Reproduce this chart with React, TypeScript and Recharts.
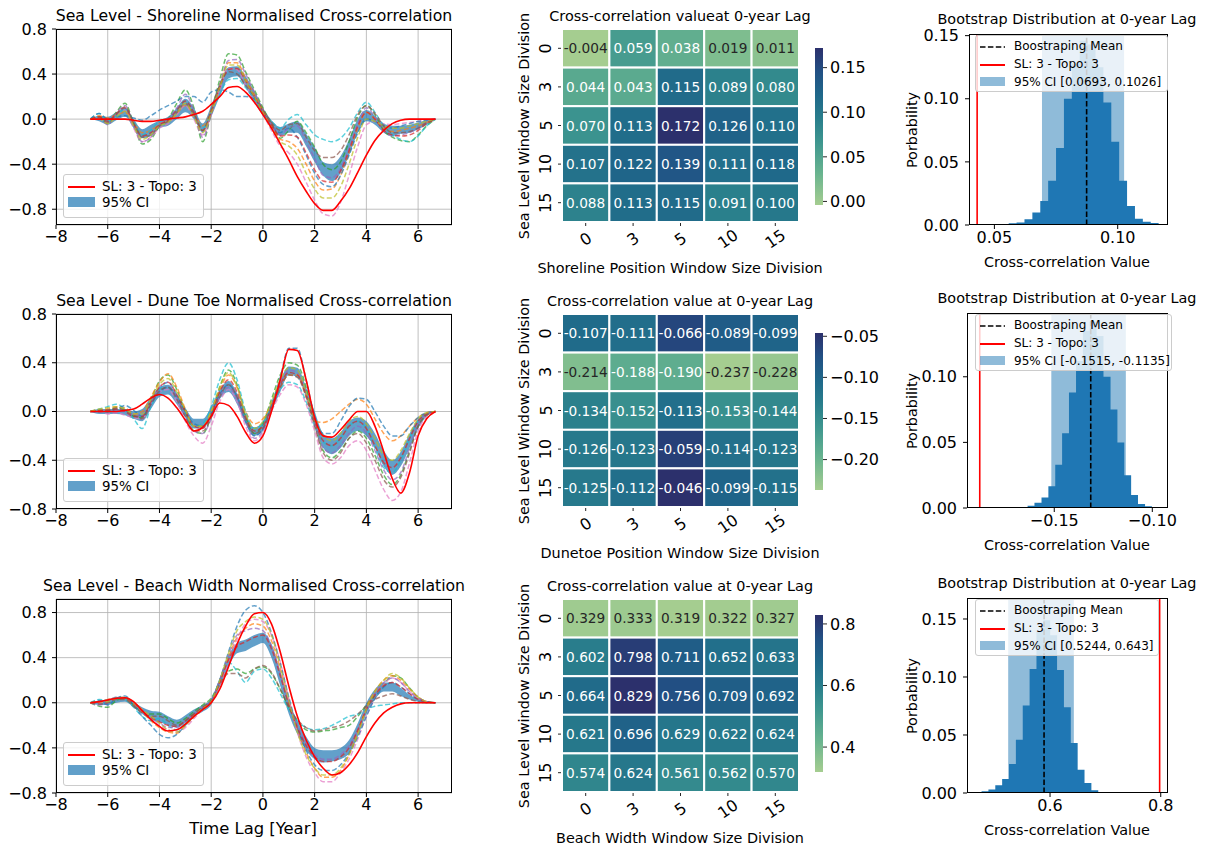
import React from 'react';
import {
  ComposedChart, Line, Area, XAxis, YAxis, CartesianGrid,
  ReferenceLine, ReferenceArea, ScatterChart, Scatter,
} from 'recharts';

const FONT = '"DejaVu Sans", sans-serif';

// time lag (years) shared by the three cross-correlation panels
const lags = [
  -6.67, -6.33, -6, -5.67, -5.33, -5, -4.67, -4.33, -4, -3.67,
  -3.33, -3, -2.67, -2.33, -2, -1.67, -1.33, -1, -0.67, -0.33,
  0, 0.33, 0.67, 1, 1.33, 1.67, 2, 2.33, 2.67, 3,
  3.33, 3.67, 4, 4.33, 4.67, 5, 5.33, 5.67, 6, 6.33,
  6.67,
];

// sea level vs shoreline
const shoreRef = [
  0, 0, 0, 0, 0, -0.01, -0.02, -0.02, -0.01, 0,
  0.01, 0.02, 0.04, 0.07, 0.13, 0.2, 0.28, 0.29, 0.24, 0.15,
  0.04, -0.08, -0.22, -0.36, -0.51, -0.64, -0.75, -0.81, -0.81, -0.73,
  -0.62, -0.47, -0.32, -0.19, -0.1, -0.04, -0.01, 0, 0, 0,
  0,
];
const shoreLow = [
  0, -0.02, -0.05, -0.01, 0.02, -0.08, -0.17, -0.15, -0.08, -0.06,
  0, 0.06, 0, -0.12, 0.02, 0.2, 0.36, 0.38, 0.28, 0.15,
  0.03, -0.07, -0.15, -0.12, -0.12, -0.24, -0.38, -0.5, -0.55, -0.48,
  -0.32, -0.12, -0.02, -0.05, -0.12, -0.15, -0.13, -0.12, -0.09, -0.05,
  0,
];
const shoreHigh = [
  0, 0.03, 0.02, 0.06, 0.1, 0, -0.09, -0.05, -0.01, 0.02,
  0.1, 0.18, 0.1, -0.04, 0.12, 0.32, 0.46, 0.47, 0.38, 0.25,
  0.1, -0.01, -0.07, -0.04, -0.02, -0.13, -0.25, -0.38, -0.4, -0.33,
  -0.18, 0, 0.08, 0.03, -0.04, -0.06, -0.06, -0.05, -0.03, -0.01,
  0,
];
const shoreRuns = [
  [0, 0.02, -0.04, 0.06, 0.14, -0.04, -0.22, -0.18, -0.06, 0,
    0.14, 0.26, 0.1, -0.2, 0.05, 0.35, 0.58, 0.57, 0.42, 0.26,
    0.1, -0.04, -0.17, -0.1, -0.02, -0.12, -0.25, -0.4, -0.45, -0.38,
    -0.2, 0.02, 0.12, 0.04, -0.1, -0.16, -0.19, -0.2, -0.14, -0.06, 0],
  [0, 0.03, 0.01, 0.04, 0.06, -0.03, -0.12, -0.1, -0.04, -0.02,
    0.05, 0.12, 0.05, -0.06, 0.08, 0.3, 0.5, 0.5, 0.36, 0.22,
    0.08, -0.06, -0.18, -0.2, -0.26, -0.4, -0.55, -0.63, -0.62, -0.5,
    -0.3, -0.08, 0.06, 0, -0.08, -0.11, -0.1, -0.08, -0.06, -0.03, 0],
  [0, 0, -0.03, 0.03, 0.08, -0.08, -0.2, -0.16, -0.08, -0.04,
    0.04, 0.12, 0, -0.14, 0.04, 0.26, 0.45, 0.44, 0.3, 0.16,
    0.04, -0.1, -0.24, -0.3, -0.4, -0.56, -0.72, -0.84, -0.86, -0.74,
    -0.5, -0.24, -0.05, -0.02, -0.04, -0.05, -0.04, -0.03, -0.02, -0.01, 0],
  [0, 0.05, -0.02, 0.03, 0.09, -0.02, -0.14, -0.1, -0.02, 0,
    0.08, 0.16, 0.06, -0.08, 0.06, 0.22, 0.35, 0.36, 0.28, 0.18,
    0.06, -0.02, -0.08, 0, 0.04, -0.05, -0.14, -0.18, -0.2, -0.17,
    -0.08, 0.06, 0.15, 0.06, -0.06, -0.14, -0.18, -0.2, -0.15, -0.06, 0],
  [0, 0.05, 0, 0.02, 0.03, 0.01, -0.01, 0.03, 0.08, 0.12,
    0.16, 0.2, 0.2, 0.15, 0.24, 0.26, 0.24, 0.2, 0.2, 0.18,
    0.06, -0.06, -0.12, -0.08, -0.16, -0.32, -0.48, -0.58, -0.6, -0.5,
    -0.32, -0.12, 0, -0.02, -0.06, -0.08, -0.06, -0.04, -0.02, -0.01, 0],
  [0, 0.01, -0.05, 0.05, 0.12, -0.05, -0.2, -0.16, -0.05, 0,
    0.1, 0.22, 0.08, -0.16, 0.04, 0.3, 0.52, 0.53, 0.4, 0.24,
    0.08, -0.05, -0.14, -0.08, -0.06, -0.2, -0.35, -0.5, -0.52, -0.44,
    -0.26, -0.04, 0.1, 0.02, -0.1, -0.15, -0.14, -0.12, -0.08, -0.03, 0],
  [0, 0.02, -0.02, 0.05, 0.1, -0.04, -0.15, -0.12, -0.05, -0.01,
    0.08, 0.16, 0.06, -0.1, 0.06, 0.28, 0.44, 0.45, 0.34, 0.2,
    0.07, -0.05, -0.15, -0.14, -0.16, -0.3, -0.45, -0.55, -0.56, -0.46,
    -0.28, -0.06, 0.06, 0, -0.1, -0.14, -0.15, -0.14, -0.1, -0.04, 0],
  [0, 0.01, -0.03, 0.04, 0.11, -0.03, -0.16, -0.14, -0.06, -0.02,
    0.06, 0.14, 0.04, -0.1, 0.08, 0.3, 0.42, 0.4, 0.3, 0.2,
    0.08, -0.03, -0.1, -0.05, -0.04, -0.16, -0.28, -0.34, -0.34, -0.28,
    -0.14, 0.04, 0.12, 0.05, -0.06, -0.12, -0.12, -0.11, -0.08, -0.03, 0],
  [0, 0, -0.04, 0.02, 0.07, -0.06, -0.18, -0.14, -0.06, -0.03,
    0.05, 0.14, 0.02, -0.12, 0.05, 0.28, 0.48, 0.48, 0.34, 0.2,
    0.06, -0.08, -0.2, -0.24, -0.32, -0.48, -0.62, -0.7, -0.7, -0.6,
    -0.4, -0.16, 0, -0.02, -0.06, -0.08, -0.08, -0.06, -0.04, -0.02, 0],
];

// sea level vs dune toe
const duneRef = [
  0, 0, 0, 0, 0.01, 0.02, 0.06, 0.11, 0.14, 0.11,
  0.03, -0.07, -0.16, -0.13, -0.04, 0.07, 0.05, -0.04, -0.17, -0.26,
  -0.2, 0, 0.26, 0.51, 0.5, 0.26, -0.05, -0.2, -0.21, -0.15,
  -0.07, 0, 0, -0.12, -0.33, -0.55, -0.67, -0.5, -0.2, -0.06,
  0,
];
const duneLow = [
  0, -0.02, -0.02, -0.02, -0.03, -0.06, -0.08, 0.02, 0.12, 0.14,
  0.06, -0.05, -0.14, -0.14, -0.04, 0.1, 0.16, 0.06, -0.1, -0.2,
  -0.16, 0, 0.16, 0.3, 0.28, 0.12, -0.1, -0.3, -0.35, -0.3,
  -0.2, -0.16, -0.2, -0.3, -0.45, -0.52, -0.45, -0.3, -0.14, -0.04,
  0,
];
const duneHigh = [
  0, 0.02, 0.02, 0.02, 0.02, 0, 0.02, 0.12, 0.2, 0.22,
  0.14, 0.03, -0.06, -0.06, 0.04, 0.18, 0.25, 0.15, -0.02, -0.13,
  -0.08, 0.08, 0.26, 0.37, 0.36, 0.2, 0, -0.18, -0.22, -0.17,
  -0.08, -0.05, -0.08, -0.18, -0.32, -0.4, -0.33, -0.18, -0.06, -0.01,
  0,
];
const duneRuns = [
  [0, 0.01, 0, 0.03, 0.02, -0.04, -0.05, 0.1, 0.25, 0.3,
    0.18, 0, -0.16, -0.18, -0.04, 0.2, 0.34, 0.22, -0.04, -0.18,
    -0.1, 0.1, 0.3, 0.4, 0.38, 0.2, -0.1, -0.32, -0.38, -0.32,
    -0.22, -0.16, -0.22, -0.36, -0.52, -0.6, -0.52, -0.32, -0.12, -0.03, 0],
  [0, 0.01, 0.02, 0.04, 0.03, -0.02, 0, 0.12, 0.24, 0.31,
    0.2, 0.02, -0.12, -0.12, 0, 0.18, 0.3, 0.2, 0, -0.1,
    -0.06, 0.06, 0.2, 0.3, 0.3, 0.12, -0.08, -0.09, -0.06, 0,
    0.06, 0.1, 0.06, -0.06, -0.18, -0.24, -0.2, -0.12, -0.05, -0.01, 0],
  [0, 0, -0.02, -0.01, -0.03, -0.05, -0.06, 0.06, 0.16, 0.18,
    0.08, -0.08, -0.2, -0.26, -0.12, 0.08, 0.18, 0.08, -0.12, -0.24,
    -0.18, 0, 0.14, 0.22, 0.2, 0.06, -0.16, -0.38, -0.43, -0.38,
    -0.28, -0.24, -0.32, -0.48, -0.64, -0.73, -0.66, -0.42, -0.16, -0.04, 0],
  [0, 0.02, 0.04, 0.06, 0.02, -0.06, -0.14, 0.04, 0.18, 0.24,
    0.14, -0.02, -0.12, -0.1, 0.04, 0.26, 0.4, 0.26, 0, -0.14,
    -0.1, 0.04, 0.18, 0.24, 0.22, 0.08, -0.12, -0.25, -0.28, -0.22,
    -0.12, -0.08, -0.14, -0.3, -0.46, -0.5, -0.4, -0.22, -0.08, -0.02, 0],
  [0, 0, 0, 0.02, 0.05, 0.01, -0.04, 0.06, 0.16, 0.2,
    0.12, 0, -0.1, -0.12, -0.02, 0.14, 0.22, 0.12, -0.08, -0.2,
    -0.14, 0.04, 0.28, 0.52, 0.52, 0.26, -0.04, -0.18, -0.18, -0.08,
    0.04, 0.11, 0.1, 0, -0.12, -0.2, -0.2, -0.12, -0.05, -0.01, 0],
  [0, 0, 0, 0, 0, -0.03, -0.02, 0.08, 0.2, 0.24,
    0.12, -0.04, -0.16, -0.18, -0.06, 0.12, 0.2, 0.1, -0.08, -0.22,
    -0.16, 0.02, 0.22, 0.34, 0.32, 0.14, -0.1, -0.3, -0.34, -0.28,
    -0.18, -0.12, -0.18, -0.32, -0.48, -0.56, -0.5, -0.3, -0.1, -0.02, 0],
  [0, 0.01, 0.01, 0.02, 0, -0.04, -0.04, 0.08, 0.2, 0.24,
    0.14, 0, -0.12, -0.14, -0.03, 0.16, 0.26, 0.16, -0.04, -0.16,
    -0.12, 0.04, 0.22, 0.32, 0.3, 0.14, -0.08, -0.24, -0.28, -0.22,
    -0.12, -0.08, -0.14, -0.28, -0.42, -0.46, -0.38, -0.22, -0.08, -0.02, 0],
  [0, 0, 0.01, 0.03, 0.01, -0.03, -0.06, 0.06, 0.17, 0.2,
    0.1, -0.04, -0.16, -0.16, -0.05, 0.12, 0.22, 0.12, -0.06, -0.18,
    -0.14, 0.02, 0.2, 0.3, 0.28, 0.12, -0.12, -0.34, -0.4, -0.34,
    -0.22, -0.18, -0.26, -0.4, -0.56, -0.62, -0.54, -0.34, -0.12, -0.03, 0],
  [0, 0.02, 0.03, 0.04, 0.02, -0.02, -0.02, 0.1, 0.22, 0.27,
    0.16, 0.01, -0.12, -0.12, 0, 0.2, 0.32, 0.2, -0.02, -0.14,
    -0.08, 0.08, 0.26, 0.36, 0.34, 0.16, -0.06, -0.2, -0.24, -0.18,
    -0.08, -0.04, -0.1, -0.22, -0.36, -0.4, -0.32, -0.18, -0.06, -0.01, 0],
];

// sea level vs beach width
const beachRef = [
  0, 0.01, 0.025, 0.04, 0.045, 0.01, -0.07, -0.15, -0.21, -0.25,
  -0.24, -0.19, -0.12, -0.06, 0, 0.12, 0.32, 0.52, 0.68, 0.79,
  0.8, 0.7, 0.45, 0.15, -0.12, -0.33, -0.48, -0.58, -0.64, -0.62,
  -0.55, -0.44, -0.3, -0.18, -0.09, -0.04, -0.01, 0, 0, 0,
  0,
];
const beachLow = [
  0, -0.02, -0.02, 0, 0.01, -0.04, -0.1, -0.15, -0.17, -0.2,
  -0.22, -0.18, -0.12, -0.08, -0.02, 0.14, 0.32, 0.44, 0.46, 0.5,
  0.53, 0.4, 0.15, -0.1, -0.28, -0.42, -0.5, -0.53, -0.52, -0.5,
  -0.45, -0.3, -0.1, 0.03, 0.1, 0.1, 0.06, 0.03, 0.01, 0,
  0,
];
const beachHigh = [
  0, 0.02, 0.03, 0.05, 0.05, 0.01, -0.04, -0.07, -0.08, -0.12,
  -0.15, -0.11, -0.06, -0.02, 0.03, 0.22, 0.42, 0.53, 0.56, 0.6,
  0.62, 0.52, 0.28, 0.02, -0.16, -0.3, -0.4, -0.42, -0.42, -0.4,
  -0.33, -0.18, 0, 0.12, 0.18, 0.18, 0.13, 0.07, 0.03, 0.01,
  0,
];
const beachRuns = [
  [0, -0.03, -0.04, 0.02, 0.04, -0.02, -0.08, -0.1, -0.1, -0.14,
    -0.18, -0.14, -0.08, -0.02, 0.04, 0.18, 0.28, 0.3, 0.26, 0.3,
    0.32, 0.26, 0.12, -0.04, -0.16, -0.24, -0.26, -0.25, -0.24, -0.22,
    -0.2, -0.12, -0.02, 0.06, 0.16, 0.24, 0.22, 0.13, 0.05, 0.01, 0],
  [0, 0, 0.03, 0.04, 0.03, -0.02, -0.08, -0.16, -0.22, -0.26,
    -0.27, -0.2, -0.13, -0.06, 0, 0.18, 0.4, 0.58, 0.66, 0.7,
    0.68, 0.55, 0.3, 0.02, -0.24, -0.44, -0.58, -0.66, -0.66, -0.6,
    -0.46, -0.26, -0.04, 0.1, 0.2, 0.24, 0.2, 0.12, 0.05, 0.01, 0],
  [0, 0, 0.02, 0.05, 0.04, 0, -0.06, -0.14, -0.2, -0.24,
    -0.26, -0.22, -0.14, -0.06, 0, 0.16, 0.36, 0.56, 0.7, 0.74,
    0.72, 0.6, 0.36, 0.04, -0.26, -0.48, -0.62, -0.7, -0.7, -0.62,
    -0.5, -0.32, -0.12, 0.04, 0.16, 0.22, 0.18, 0.1, 0.04, 0.01, 0],
  [0, 0.03, 0.02, 0.05, 0.03, -0.04, -0.12, -0.16, -0.14, -0.2,
    -0.24, -0.18, -0.1, -0.04, 0.02, 0.2, 0.36, 0.28, 0.18, 0.28,
    0.3, 0.22, 0.08, -0.06, -0.16, -0.22, -0.24, -0.23, -0.2, -0.16,
    -0.12, -0.1, -0.06, -0.03, -0.02, -0.01, 0, 0, 0, 0, 0],
  [0, 0.02, -0.02, 0.04, 0.06, -0.02, -0.12, -0.2, -0.28, -0.31,
    -0.28, -0.2, -0.12, -0.05, 0.02, 0.2, 0.45, 0.68, 0.82, 0.86,
    0.8, 0.62, 0.35, 0.05, -0.22, -0.42, -0.55, -0.6, -0.6, -0.55,
    -0.45, -0.3, -0.12, 0.04, 0.14, 0.18, 0.14, 0.08, 0.03, 0.01, 0],
  [0, -0.02, 0, 0.04, 0.05, 0, -0.08, -0.14, -0.18, -0.22,
    -0.22, -0.16, -0.1, -0.04, 0.02, 0.2, 0.42, 0.6, 0.64, 0.66,
    0.64, 0.5, 0.26, 0, -0.2, -0.36, -0.46, -0.5, -0.5, -0.46,
    -0.38, -0.24, -0.06, 0.08, 0.18, 0.22, 0.18, 0.1, 0.04, 0.01, 0],
  [0, 0.01, 0.02, 0.04, 0.04, 0, -0.07, -0.13, -0.17, -0.2,
    -0.21, -0.16, -0.1, -0.04, 0.01, 0.18, 0.38, 0.5, 0.54, 0.58,
    0.6, 0.48, 0.24, -0.02, -0.22, -0.38, -0.48, -0.52, -0.52, -0.48,
    -0.4, -0.24, -0.06, 0.07, 0.15, 0.18, 0.14, 0.08, 0.03, 0.01, 0],
  [0, -0.01, 0, 0.03, 0.03, -0.03, -0.09, -0.12, -0.12, -0.16,
    -0.2, -0.16, -0.1, -0.04, 0.02, 0.16, 0.26, 0.26, 0.22, 0.3,
    0.33, 0.27, 0.12, -0.04, -0.15, -0.22, -0.25, -0.24, -0.22, -0.2,
    -0.16, -0.1, -0.03, 0.03, 0.06, 0.08, 0.06, 0.03, 0.01, 0, 0],
  [0, 0.01, 0.01, 0.04, 0.05, 0, -0.06, -0.12, -0.18, -0.24,
    -0.26, -0.2, -0.12, -0.05, 0.01, 0.2, 0.44, 0.64, 0.72, 0.76,
    0.74, 0.6, 0.32, 0.02, -0.26, -0.46, -0.58, -0.64, -0.64, -0.58,
    -0.46, -0.28, -0.06, 0.1, 0.2, 0.26, 0.22, 0.13, 0.05, 0.01, 0],
];

const runColors = [
  '#2ca02c', '#ff7f0e', '#e377c2', '#17becf', '#1f77b4',
  '#9467bd', '#d62728', '#8c564b', '#bcbd22',
];

// window size divisions (rows: sea level, columns: topography)
const windowSizes = ['0', '3', '5', '10', '15'];

const shoreGrid = [
  [-0.004, 0.059, 0.038, 0.019, 0.011],
  [0.044, 0.043, 0.115, 0.089, 0.080],
  [0.070, 0.113, 0.172, 0.126, 0.110],
  [0.107, 0.122, 0.139, 0.111, 0.118],
  [0.088, 0.113, 0.115, 0.091, 0.100],
];
const duneGrid = [
  [-0.107, -0.111, -0.066, -0.089, -0.099],
  [-0.214, -0.188, -0.190, -0.237, -0.228],
  [-0.134, -0.152, -0.113, -0.153, -0.144],
  [-0.126, -0.123, -0.059, -0.114, -0.123],
  [-0.125, -0.112, -0.046, -0.099, -0.115],
];
const beachGrid = [
  [0.329, 0.333, 0.319, 0.322, 0.327],
  [0.602, 0.798, 0.711, 0.652, 0.633],
  [0.664, 0.829, 0.756, 0.709, 0.692],
  [0.621, 0.696, 0.629, 0.622, 0.624],
  [0.574, 0.624, 0.561, 0.562, 0.570],
];

// bootstrap distributions at 0-year lag
const shoreEdges = [
  0.0526, 0.0558, 0.059, 0.0622, 0.0654, 0.0686, 0.0718, 0.075, 0.0782, 0.0814,
  0.0846, 0.0878, 0.091, 0.0942, 0.0974, 0.1006, 0.1038, 0.107, 0.1102, 0.1134, 0.1166,
];
const shoreProb = [
  0.0008, 0.0013, 0.002, 0.0045, 0.01, 0.019, 0.035, 0.061, 0.1, 0.128,
  0.146, 0.143, 0.125, 0.097, 0.066, 0.035, 0.015, 0.005, 0.0026, 0.0016,
];
const shoreMean = 0.0874;
const shoreCI = [0.0693, 0.1026];

const duneEdges = [
  -0.1671, -0.1636, -0.1601, -0.1565, -0.153, -0.1495, -0.146, -0.1425, -0.1389, -0.1354,
  -0.1319, -0.1284, -0.1249, -0.1213, -0.1178, -0.1143, -0.1108, -0.1073, -0.1037, -0.1002,
];
const duneProb = [
  0.0008, 0.0018, 0.004, 0.008, 0.0165, 0.033, 0.057, 0.088, 0.112, 0.135,
  0.142, 0.131, 0.1, 0.075, 0.05, 0.025, 0.01, 0.003, 0.0013,
];
const duneMean = -0.1314;
const duneCI = [-0.1515, -0.1135];

const beachEdges = [
  0.4639, 0.4763, 0.4887, 0.5011, 0.5135, 0.5259, 0.5383, 0.5507, 0.5631, 0.5755,
  0.5879, 0.6003, 0.6127, 0.6251, 0.6375, 0.6499, 0.6623, 0.6747, 0.6871, 0.6995,
];
const beachProb = [
  0.0006, 0.0015, 0.003, 0.0066, 0.012, 0.025, 0.046, 0.0755, 0.107, 0.139,
  0.149, 0.136, 0.106, 0.074, 0.043, 0.02, 0.0086, 0.0023, 0.0008,
];
const beachMean = 0.5892;
const beachCI = [0.5244, 0.643];

// crest-like colormap, light green -> navy
const crestStops: [number, number[]][] = [
  [0, [165, 205, 144]],
  [0.2, [105, 180, 143]],
  [0.4, [62, 150, 143]],
  [0.55, [41, 126, 140]],
  [0.7, [31, 104, 138]],
  [0.85, [34, 80, 132]],
  [1, [44, 48, 108]],
];
const rgb = (c: number[]) => `rgb(${c.map((v) => Math.round(v)).join(',')})`;
function crest(t: number) {
  const u = Math.max(0, Math.min(1, t));
  for (let i = 1; i < crestStops.length; i++) {
    const [t1, c1] = crestStops[i];
    const [t0, c0] = crestStops[i - 1];
    if (u <= t1) {
      const f = (u - t0) / (t1 - t0);
      return rgb(c0.map((v, k) => v + (c1[k] - v) * f));
    }
  }
  return rgb(crestStops[crestStops.length - 1][1]);
}

const toMinus = (s: string) => s.replace('-', '\u2212');

function buildRows(ref: number[], low: number[], high: number[], runs: number[][]) {
  return lags.map((lag, i) => {
    const row: Record<string, any> = { lag, ref: ref[i], band: [low[i], high[i]] };
    runs.forEach((r, k) => { row[`run${k}`] = r[i]; });
    return row;
  });
}

function Txt({ x, y, size, rotate = 0, children }: any) {
  return (
    <div style={{
      position: 'absolute', left: x, top: y, fontSize: size, lineHeight: 1,
      whiteSpace: 'nowrap', color: '#000',
      transform: `translate(-50%, -50%) rotate(${rotate}deg)`,
    }}>{children}</div>
  );
}

const tickStyle = { fontSize: 16, fill: '#000' };
// room above each plot so the top tick label is not clipped
const PAD_TOP = 12;

// ---------- cross-correlation line panels ----------
const LINE_LEFT = 56;
const LINE_W = 396;
const LINE_AXIS = 50;

function CorrelationPanel({ title, rows, runs, yDomain, top, height, xLabel }: any) {
  return (
    <>
      <Txt x={254} y={top - 13} size={15.7}>{title}</Txt>
      <div style={{ position: 'absolute', left: LINE_LEFT - LINE_AXIS, top: top - PAD_TOP }}>
        <ComposedChart width={LINE_AXIS + LINE_W} height={height + 32 + PAD_TOP} data={rows}
          margin={{ top: PAD_TOP, right: 0, bottom: 0, left: 0 }}>
          <CartesianGrid stroke="#b0b0b0" strokeWidth={0.8} />
          <XAxis dataKey="lag" type="number" domain={[-8, 7.31]} allowDataOverflow
            ticks={[-8, -6, -4, -2, 0, 2, 4, 6]} height={32} axisLine={false} interval={0}
            tickSize={4} tickMargin={2} tickLine={{ stroke: '#000' }} tick={tickStyle}
            tickFormatter={(v: number) => toMinus(String(v))} />
          <YAxis type="number" domain={yDomain} allowDataOverflow interval={0}
            ticks={[-0.8, -0.4, 0, 0.4, 0.8]} width={LINE_AXIS} axisLine={false}
            tickSize={4} tickMargin={5} tickLine={{ stroke: '#000' }} tick={tickStyle}
            tickFormatter={(v: number) => toMinus(v.toFixed(1))} />
          {runColors.slice(0, runs).map((c, k) => (
            <Line key={k} dataKey={`run${k}`} type="monotone" stroke={c} strokeOpacity={0.7}
              strokeWidth={1.5} strokeDasharray="5 2.5" dot={false} isAnimationActive={false} />
          ))}
          <Area dataKey="band" type="monotone" fill="#1f77b4" fillOpacity={0.7} stroke="none"
            isAnimationActive={false} />
          <Line dataKey="ref" type="monotone" stroke="#ff0000" strokeWidth={1.6} dot={false}
            isAnimationActive={false} />
        </ComposedChart>
      </div>
      <div style={{
        position: 'absolute', left: LINE_LEFT, top, width: LINE_W, height,
        border: '1px solid #000', boxSizing: 'border-box', pointerEvents: 'none',
      }} />
      <div style={{
        position: 'absolute', left: 63, top: top + height - 51, width: 141, height: 44,
        background: 'rgba(255,255,255,0.8)', border: '1px solid #ccc', borderRadius: 3,
        boxSizing: 'border-box', fontSize: 13.4, whiteSpace: 'nowrap',
      }}>
        <div style={{ position: 'absolute', left: 4, top: 11, width: 27, height: 2, background: '#ff0000' }} />
        <div style={{ position: 'absolute', left: 38, top: 4, lineHeight: '16px' }}>SL: 3 - Topo: 3</div>
        <div style={{ position: 'absolute', left: 4, top: 22, width: 27, height: 10, background: '#1f77b4', opacity: 0.7 }} />
        <div style={{ position: 'absolute', left: 38, top: 20, lineHeight: '16px' }}>95% CI</div>
      </div>
      {xLabel && <Txt x={253} y={top + height + 36} size={16.4}>{xLabel}</Txt>}
    </>
  );
}

// ---------- heatmap panels ----------
const HEAT_LEFT = 562;
const HEAT_W = 237;
const HEAT_H = 193;
const HEAT_AXIS = 40;
const CB_LEFT = 815;
const CB_W = 8;
const CB_H = 157;

const HeatXTick = ({ x, y, payload }: any) => (
  <text x={x} y={y + 11} transform={`rotate(-35, ${x}, ${y + 11})`} textAnchor="middle"
    dominantBaseline="central" fontSize={16} fill="#000">{windowSizes[payload.value]}</text>
);
const HeatYTick = ({ x, y, payload }: any) => (
  <text x={x - 10} y={y} transform={`rotate(-90, ${x - 10}, ${y})`} textAnchor="middle"
    dominantBaseline="central" fontSize={16} fill="#000">{windowSizes[payload.value]}</text>
);

function HeatPanel({ grid, title, xLabel, yLabel, top, cbTop, cbTicks, cbDigits, gradId }: any) {
  const flat: number[] = grid.flat();
  const lo = Math.min(...flat);
  const hi = Math.max(...flat);
  const cells = grid.flatMap((row: number[], r: number) => row.map((v, c) => ({ col: c, row: r, v })));
  const cw = HEAT_W / 5;
  const ch = HEAT_H / 5;
  const renderCell = (p: any) => {
    const t = (p.payload.v - lo) / (hi - lo);
    return (
      <g>
        <rect x={p.cx - cw / 2} y={p.cy - ch / 2} width={cw} height={ch} fill={crest(t)}
          stroke="#fff" strokeWidth={2} />
        <text x={p.cx} y={p.cy} textAnchor="middle" dominantBaseline="central" fontSize={13.7}
          fill={t < 0.2 ? '#262626' : '#fff'}>{p.payload.v.toFixed(3)}</text>
      </g>
    );
  };
  return (
    <>
      <Txt x={680} y={top - 13} size={14.4}>{title}</Txt>
      <div style={{ position: 'absolute', left: HEAT_LEFT - HEAT_AXIS, top }}>
        <ScatterChart width={HEAT_AXIS + HEAT_W} height={HEAT_H + 40}
          margin={{ top: 0, right: 0, bottom: 0, left: 0 }}>
          <XAxis dataKey="col" type="number" domain={[-0.5, 4.5]} ticks={[0, 1, 2, 3, 4]}
            height={40} axisLine={false} tickSize={4} tickMargin={2} interval={0}
            tickLine={{ stroke: '#262626' }} tick={HeatXTick} />
          <YAxis dataKey="row" type="number" domain={[-0.5, 4.5]} ticks={[0, 1, 2, 3, 4]} reversed
            width={HEAT_AXIS} axisLine={false} tickSize={4} tickMargin={2} interval={0}
            tickLine={{ stroke: '#262626' }} tick={HeatYTick} />
          <Scatter data={cells} shape={renderCell} isAnimationActive={false} />
        </ScatterChart>
      </div>
      <div style={{ position: 'absolute', left: CB_LEFT, top: cbTop - 10 }}>
        <ComposedChart width={CB_W + 60} height={CB_H + 20} data={[{ x: 0 }, { x: 1 }]}
          margin={{ top: 10, right: 0, bottom: 10, left: 0 }}>
          <defs>
            <linearGradient id={gradId} x1="0" y1="1" x2="0" y2="0">
              {crestStops.map(([t, c]) => <stop key={t} offset={t} stopColor={rgb(c)} />)}
            </linearGradient>
          </defs>
          <XAxis dataKey="x" type="number" domain={[0, 1]} hide />
          <YAxis orientation="right" type="number" domain={[lo, hi]} allowDataOverflow ticks={cbTicks}
            width={60} axisLine={false} tickSize={4} tickMargin={3} interval={0}
            tickLine={{ stroke: '#262626' }} tick={tickStyle}
            tickFormatter={(v: number) => toMinus(v.toFixed(cbDigits))} />
          <ReferenceArea y1={lo} y2={hi} fill={`url(#${gradId})`} fillOpacity={1} stroke="none" />
        </ComposedChart>
      </div>
      <Txt x={524} y={top + HEAT_H / 2} size={14.4} rotate={-90}>{yLabel}</Txt>
      <Txt x={680} y={top + HEAT_H + 46} size={14.4}>{xLabel}</Txt>
    </>
  );
}

// ---------- bootstrap histogram panels ----------
const HIST_AXIS = 50;
const HIST_PAD = 24;

function BootPanel({
  edges, probs, mean, ci, observed, left, top, width, height,
  xDomain, yDomain, xTicks, yTicks, xDigits, ciLabel, legendWidth,
}: any) {
  const rows = edges.map((x: number, i: number) => ({ x, p: probs[Math.min(i, probs.length - 1)] }));
  return (
    <>
      <Txt x={1067} y={top - 15} size={14.4}>Bootstrap Distribution at 0-year Lag</Txt>
      <div style={{ position: 'absolute', left: left - HIST_AXIS, top: top - PAD_TOP }}>
        <ComposedChart width={HIST_AXIS + width + HIST_PAD} height={height + 32 + PAD_TOP} data={rows}
          margin={{ top: PAD_TOP, right: HIST_PAD, bottom: 0, left: 0 }}>
          <XAxis dataKey="x" type="number" domain={xDomain} allowDataOverflow ticks={xTicks}
            height={32} axisLine={false} tickSize={4} tickMargin={3} interval={0}
            tickLine={{ stroke: '#000' }} tick={tickStyle}
            tickFormatter={(v: number) => toMinus(v.toFixed(xDigits))} />
          <YAxis type="number" domain={yDomain} allowDataOverflow ticks={yTicks} width={HIST_AXIS}
            axisLine={false} tickSize={4} tickMargin={6} tickLine={{ stroke: '#000' }} tick={tickStyle}
            interval={0} tickFormatter={(v: number) => v.toFixed(2)} />
          <ReferenceArea x1={ci[0]} x2={ci[1]} fill="#1f77b4" fillOpacity={0.5} stroke="none" />
          <Area dataKey="p" type="stepAfter" fill="#1f77b4" fillOpacity={1} stroke="none"
            isAnimationActive={false} />
          <ReferenceLine x={mean} stroke="#000" strokeWidth={1.6} strokeDasharray="5.5 2.4" />
          <ReferenceLine x={observed} stroke="#ff0000" strokeWidth={1.6} />
        </ComposedChart>
      </div>
      <div style={{
        position: 'absolute', left, top, width, height,
        border: '1px solid #000', boxSizing: 'border-box', pointerEvents: 'none',
      }} />
      <div style={{
        position: 'absolute', left: 975, top: top + 1, width: legendWidth, height: 57,
        background: 'rgba(255,255,255,0.8)', border: '1px solid #ccc', borderRadius: 3,
        boxSizing: 'border-box', fontSize: 12, whiteSpace: 'nowrap',
      }}>
        <svg style={{ position: 'absolute', left: 4, top: 9 }} width={25} height={4}>
          <line x1={0} y1={2} x2={25} y2={2} stroke="#000" strokeWidth={1.6} strokeDasharray="5.5 2.4" />
        </svg>
        <div style={{ position: 'absolute', left: 38, top: 3, lineHeight: '14px' }}>Boostraping Mean</div>
        <div style={{ position: 'absolute', left: 4, top: 28, width: 25, height: 2, background: '#ff0000' }} />
        <div style={{ position: 'absolute', left: 38, top: 21, lineHeight: '14px' }}>SL: 3 - Topo: 3</div>
        <div style={{ position: 'absolute', left: 4, top: 41, width: 25, height: 9, background: '#1f77b4', opacity: 0.5 }} />
        <div style={{ position: 'absolute', left: 38, top: 39, lineHeight: '14px' }}>{ciLabel}</div>
      </div>
      <Txt x={912} y={top + height / 2} size={14.4} rotate={-90}>Porbability</Txt>
      <Txt x={1067} y={top + height + 37} size={14.4}>Cross-correlation Value</Txt>
    </>
  );
}

export default function App() {
  const shoreRows = buildRows(shoreRef, shoreLow, shoreHigh, shoreRuns);
  const duneRows = buildRows(duneRef, duneLow, duneHigh, duneRuns);
  const beachRows = buildRows(beachRef, beachLow, beachHigh, beachRuns);

  return (
    <div style={{
      position: 'absolute', left: 0, top: 0, width: 1207, height: 849,
      background: '#fff', fontFamily: FONT, overflow: 'hidden',
    }}>
      <CorrelationPanel title="Sea Level - Shoreline Normalised Cross-correlation" rows={shoreRows}
        runs={shoreRuns.length} yDomain={[-0.94, 0.8]} top={29} height={196} />
      <CorrelationPanel title="Sea Level - Dune Toe Normalised Cross-correlation" rows={duneRows}
        runs={duneRuns.length} yDomain={[-0.8, 0.8]} top={314} height={195} />
      <CorrelationPanel title="Sea Level - Beach Width Normalised Cross-correlation" rows={beachRows}
        runs={beachRuns.length} yDomain={[-0.8, 0.92]} top={599} height={194} xLabel="Time Lag [Year]" />

      <HeatPanel grid={shoreGrid} title="Cross-correlation valueat 0-year Lag"
        xLabel="Shoreline Position Window Size Division" yLabel="Sea Level Window Size Division"
        top={29} cbTop={48} cbTicks={[0, 0.05, 0.1, 0.15]} cbDigits={2} gradId="cb-shore" />
      <HeatPanel grid={duneGrid} title="Cross-correlation value at 0-year Lag"
        xLabel="Dunetoe Position Window Size Division" yLabel="Sea Level Window Size Division"
        top={314} cbTop={333} cbTicks={[-0.2, -0.15, -0.1, -0.05]} cbDigits={2} gradId="cb-dune" />
      <HeatPanel grid={beachGrid} title="Cross-correlation value at 0-year Lag"
        xLabel="Beach Width Window Size Division" yLabel="Sea Level window Size Division"
        top={599} cbTop={615} cbTicks={[0.4, 0.6, 0.8]} cbDigits={1} gradId="cb-beach" />

      <BootPanel edges={shoreEdges} probs={shoreProb} mean={shoreMean} ci={shoreCI}
        observed={shoreGrid[1][1]} left={969} top={34} width={199} height={191}
        xDomain={[0.0397, 0.1204]} yDomain={[0, 0.1513]} xTicks={[0.05, 0.1]}
        yTicks={[0, 0.05, 0.1, 0.15]} xDigits={2} ciLabel="95% CI [0.0693, 0.1026]" legendWidth={193} />
      <BootPanel edges={duneEdges} probs={duneProb} mean={duneMean} ci={duneCI}
        observed={duneGrid[1][1]} left={967} top={313} width={201} height={195}
        xDomain={[-0.1945, -0.092]} yDomain={[0, 0.1486]} xTicks={[-0.15, -0.1]}
        yTicks={[0, 0.05, 0.1]} xDigits={2} ciLabel="95% CI [-0.1515, -0.1135]" legendWidth={197} />
      <BootPanel edges={beachEdges} probs={beachProb} mean={beachMean} ci={beachCI}
        observed={beachGrid[1][1]} left={967} top={598} width={201} height={195}
        xDomain={[0.45, 0.8131]} yDomain={[0, 0.1681]} xTicks={[0.6, 0.8]}
        yTicks={[0, 0.05, 0.1, 0.15]} xDigits={1} ciLabel="95% CI [0.5244, 0.643]" legendWidth={184} />
    </div>
  );
}
